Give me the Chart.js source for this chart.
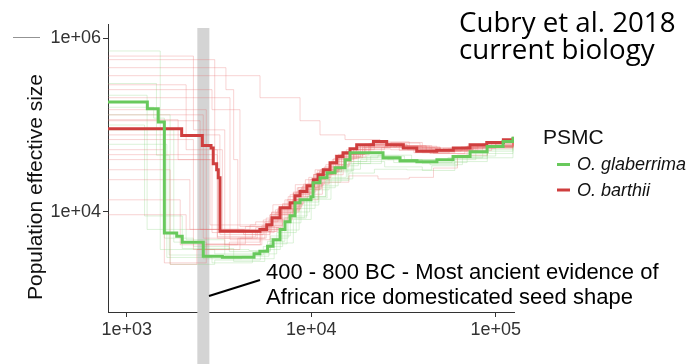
<!DOCTYPE html>
<html>
<head>
<meta charset="utf-8">
<script src="https://cdn.jsdelivr.net/npm/chart.js@4.4.1/dist/chart.umd.min.js"></script>
<style>
  html, body { margin: 0; padding: 0; background: #ffffff; overflow: hidden; }
  canvas { display: block; }
</style>
</head>
<body>
<canvas id="psmc" width="690" height="364"></canvas>
<script>
// Axis ticks
const xTickValues = [1e3, 1e4, 1e5];
const xTickLabels = ['1e+03', '1e+04', '1e+05'];
const yTickValues = [1e4, 1e6];
const yTickLabels = ['1e+04', '1e+06'];

// Main PSMC curves: [years ago, effective size] where each pair starts a new step level
const glaberrimaSteps = [
  [790, 183700], [1294, 154000], [1483, 108000], [1600, 5740], [1867, 5250], [2000, 4480],
  [2600, 3090], [3300, 3010], [4900, 3300], [5270, 3525], [5800, 4030], [6210, 4800],
  [6780, 6300], [7210, 7740], [7680, 9080], [8170, 12800], [8700, 13800], [9970, 15000],
  [10230, 21700], [11160, 24800], [12190, 28300], [13460, 32300], [15250, 39900], [16230, 48100],
  [24500, 42100], [30300, 38900], [37400, 37800], [48000, 39900], [58700, 43300], [72600, 49300],
  [89800, 56600], [109600, 64800], [124000, 73300]
];
const barthiiSteps = [
  [790, 90600], [1986, 75900], [2570, 58300], [2865, 54500], [2945, 35900], [3074, 30600],
  [3135, 24800], [3204, 5990], [5270, 6270], [5740, 7140], [6130, 8600], [6780, 11200],
  [7680, 12800], [8170, 15400], [8700, 17250], [9480, 20000], [10250, 23500], [10880, 26800],
  [11630, 30600], [12650, 36900], [13750, 43300], [14870, 48100], [16230, 53500], [17640, 59400],
  [21740, 64800], [25650, 59400], [31570, 54500], [37300, 49800], [47900, 51100], [58900, 54500],
  [72600, 59400], [89400, 63100], [110000, 67800], [124500, 72800]
];

// Bootstrap replicates, O. barthii
const barthiiReplicates = [
  [[790,564000],[3000,52000],[3300,6300],[5900,8100],[7900,13800],[10900,26800],[14900,45600],[20600,59000],[33300,52000],[52000,54000],[80000,60000],[124000,71000]],
  [[790,369000],[5280,206000],[8700,112000],[11160,77000],[15250,68000],[23600,62000],[38900,52000],[62000,55000],[100000,63000],[124000,70000]],
  [[790,206000],[3630,4800],[5980,9300],[7680,15800],[9850,23500],[12650,35000],[16230,52000],[21000,62000],[31000,54000],[45000,50000],[70000,57000],[124000,72000]],
  [[790,150000],[2700,4200],[5300,6300],[6800,10600],[8700,18000],[11160,30600],[14320,45600],[18390,59000],[28000,56000],[40000,48000],[60000,53000],[90000,62000],[124000,73000]],
  [[790,112000],[2500,6300],[4660,7100],[6200,12100],[8200,20600],[10500,30600],[13500,45600],[17500,56000],[26000,58000],[38000,50000],[55000,53000],[85000,61000],[124000,72000]],
  [[790,77000],[3200,5500],[5500,8100],[7200,13800],[9300,23500],[12000,35000],[15500,52000],[22000,64000],[34000,56000],[50000,52000],[75000,58000],[124000,74000]],
  [[790,23500],[2200,6300],[4300,5500],[5980,9300],[8000,17000],[10300,27000],[13000,40000],[17000,52000],[25000,57000],[42000,50000],[65000,56000],[124000,72000]],
  [[790,13800],[1950,4200],[4000,5000],[5600,7700],[7400,13800],[9500,21000],[12500,33000],[16000,47000],[24000,55000],[36000,48000],[56000,51000],[95000,64000],[124000,71000]],
  [[790,40000],[2830,7100],[5000,7700],[6600,11000],[8500,19000],[11000,29000],[14000,42000],[19000,55000],[30000,51000],[46000,47000],[70000,55000],[124000,72000]],
  [[790,68000],[2300,3700],[3600,4500],[5280,6300],[7000,12100],[9000,20000],[11600,32000],[15000,47000],[21000,60000],[33000,54000],[50000,51000],[80000,59000],[124000,73000]],
  [[790,30600],[1720,2500],[2400,3700],[4110,5000],[5700,8500],[7500,15000],[9700,25000],[12800,38000],[17000,53000],[27000,52000],[44000,47000],[68000,54000],[124000,71000]],
  [[790,9300],[2100,6300],[4400,6800],[6100,10000],[8000,16500],[10400,26800],[13600,41000],[18000,56000],[29000,58000],[45000,53000],[70000,57000],[124000,73000]],
  [[790,456000],[3450,255000],[3800,40000],[4000,5800],[6300,9500],[8300,17000],[10600,28000],[13800,43000],[18500,58000],[27000,63000],[40000,55000],[62000,54000],[100000,64000],[124000,72000]],
  [[790,255000],[2900,150000],[4110,6800],[6400,10600],[8400,19000],[10800,30000],[14000,46000],[19500,60000],[30000,57000],[48000,51000],[75000,57000],[124000,72000]],
  [[790,131000],[2600,5000],[4800,6000],[6500,10000],[8600,16000],[11500,22000],[16000,26000],[23000,24000],[34000,25000],[46000,32000],[62000,45000],[90000,58000],[124000,70000]],
  [[790,45600],[3100,5200],[5000,6600],[6700,11000],[8800,18500],[11400,29000],[14600,43000],[19800,56000],[31000,54000],[50000,50000],[78000,57000],[124000,71000]],
  [[790,620000],[2300,88000],[3400,4200],[5400,6600],[6900,11500],[8900,19500],[11400,31000],[14600,46000],[19500,60000],[30000,55000],[47000,50000],[72000,57000],[124000,72000]],
  [[790,290000],[2100,52000],[3100,5000],[5100,6000],[6600,10500],[8600,18000],[11100,29000],[14200,44000],[19000,58000],[29000,57000],[44000,52000],[68000,56000],[124000,72000]],
  [[790,115000],[1900,40000],[2900,5800],[5400,7000],[7000,12500],[9100,21000],[11800,33000],[15200,48000],[20500,61000],[32000,55000],[50000,52000],[76000,58000],[124000,72000]],
  [[790,52000],[1600,2600],[2700,4300],[4400,6000],[6100,9800],[8000,16500],[10300,27000],[13200,41000],[17600,55000],[27000,58000],[42000,51000],[66000,55000],[124000,72000]]
];

// Bootstrap replicates, O. glaberrima
const glaberrimaReplicates = [
  [[790,710000],[1520,3700],[3000,3300],[5000,3500],[6000,5000],[7500,9000],[9500,15000],[12000,25000],[15500,38000],[20000,44000],[30000,37000],[48000,37000],[70000,47000],[124000,72000]],
  [[790,220000],[1290,6300],[2100,4800],[3400,3200],[5500,4000],[7000,7500],[8800,13000],[11000,22000],[14500,34000],[18000,42000],[26000,40000],[40000,36000],[60000,42000],[124000,71000]],
  [[790,131000],[1720,2500],[3000,2800],[5300,3300],[6500,5800],[8300,11000],[10500,19000],[13500,30000],[17000,38000],[25000,33000],[40000,30000],[60000,38000],[90000,52000],[124000,70000]],
  [[790,88000],[1800,4500],[2700,3700],[4600,3600],[6000,5300],[7700,10000],[9800,18000],[12500,29000],[16500,42000],[23000,45000],[35000,40000],[55000,42000],[85000,55000],[124000,73000]],
  [[790,160000],[1400,120000],[1600,5000],[2300,4000],[3600,3500],[5800,4600],[7200,8600],[9200,15000],[12000,23000],[16000,28000],[22000,31000],[33000,30500],[45000,34000],[62000,44000],[90000,57000],[124000,72000]],
  [[790,60000],[1650,3000],[2900,2600],[4800,2900],[6300,4400],[8000,8200],[10000,14000],[12800,24000],[16800,36000],[24000,40000],[38000,37000],[58000,41000],[90000,56000],[124000,73000]],
  [[790,300000],[1450,45000],[1700,3200],[2600,2900],[4200,3100],[5900,4300],[7400,8500],[9400,14500],[12200,24000],[15800,36000],[21000,44000],[32000,40000],[50000,40000],[78000,50000],[124000,72000]],
  [[790,100000],[1250,9000],[2000,3800],[3800,2700],[5600,3700],[6800,6200],[8600,12000],[11000,20000],[14000,31000],[18500,40000],[28000,37000],[44000,35000],[66000,44000],[100000,60000],[124000,72000]]
];

// Domestication window (years ago) and its note
const domesticationWindow = [2415, 2806];
const noteLines = ['400 - 800 BC - Most ancient evidence of', 'African rice domesticated seed shape'];
const legendTitle = 'PSMC';
const legendNames = ['O. glaberrima', 'O. barthii'];
const creditLines = ['Cubry et al. 2018', 'current biology'];
const yTitle = 'Population effective size';

const GREEN = 'rgb(104, 201, 92)';
const RED = 'rgb(207, 62, 62)';

const toPoints = steps => steps.map(([x, y]) => ({ x, y }));

const datasets = [];
datasets.push({ label: legendNames[0], data: toPoints(glaberrimaSteps), borderColor: GREEN, borderWidth: 3, order: 0 });
datasets.push({ label: legendNames[1], data: toPoints(barthiiSteps), borderColor: RED, borderWidth: 3, order: 1 });
barthiiReplicates.forEach(r => datasets.push({ label: '', data: toPoints(r), borderColor: 'rgba(232, 110, 110, 0.3)', borderWidth: 1, order: 2 }));
glaberrimaReplicates.forEach(r => datasets.push({ label: '', data: toPoints(r), borderColor: 'rgba(130, 210, 120, 0.28)', borderWidth: 1, order: 3 }));
datasets.forEach(d => { d.stepped = true; d.pointRadius = 0; d.fill = false; d.tension = 0; });

// Shaded window, drawn under the curves and running past the axis
const windowBand = {
  id: 'windowBand',
  beforeDatasetsDraw(chart) {
    const { ctx, scales: { x } } = chart;
    const x0 = x.getPixelForValue(domesticationWindow[0]);
    const x1 = x.getPixelForValue(domesticationWindow[1]);
    ctx.save();
    ctx.fillStyle = 'rgb(212, 212, 212)';
    ctx.fillRect(x0, 28, x1 - x0, chart.height - 28);
    // small dash at the top left
    ctx.strokeStyle = 'rgba(120, 120, 120, 0.8)';
    ctx.lineWidth = 1;
    ctx.beginPath();
    ctx.moveTo(13, 37.5);
    ctx.lineTo(40, 37.5);
    ctx.stroke();
    ctx.restore();
  }
};

// Axis title, legend, note and credit text
const decorations = {
  id: 'decorations',
  afterDraw(chart) {
    const { ctx } = chart;
    ctx.save();

    // y-axis title
    ctx.fillStyle = '#111';
    ctx.font = '21px "Liberation Sans", Arial, sans-serif';
    ctx.textAlign = 'center';
    ctx.textBaseline = 'middle';
    ctx.translate(36, 187);
    ctx.rotate(-Math.PI / 2);
    ctx.fillText(yTitle, 0, 0);
    ctx.setTransform(1, 0, 0, 1, 0, 0);

    // note leader line and text
    ctx.strokeStyle = '#000';
    ctx.lineWidth = 2;
    ctx.beginPath();
    ctx.moveTo(209, 296);
    ctx.lineTo(260, 280);
    ctx.stroke();
    ctx.fillStyle = '#000';
    ctx.textAlign = 'left';
    ctx.textBaseline = 'alphabetic';
    ctx.font = '22px "Liberation Sans", Arial, sans-serif';
    ctx.fillText(noteLines[0], 266, 278.5);
    ctx.fillText(noteLines[1], 266, 303.5);

    // legend
    ctx.fillStyle = '#111';
    ctx.font = '21px "Liberation Sans", Arial, sans-serif';
    ctx.textBaseline = 'middle';
    ctx.fillText(legendTitle, 543, 138);
    const colors = [GREEN, RED];
    const rows = [164.5, 190];
    ctx.font = 'italic 18px "Liberation Sans", Arial, sans-serif';
    rows.forEach((yy, i) => {
      ctx.strokeStyle = colors[i];
      ctx.lineWidth = 3;
      ctx.beginPath();
      ctx.moveTo(557, yy);
      ctx.lineTo(570, yy);
      ctx.stroke();
      ctx.fillStyle = '#111';
      ctx.fillText(legendNames[i], 577, yy + 0.5);
    });

    // credit
    ctx.fillStyle = '#000';
    ctx.textBaseline = 'alphabetic';
    ctx.font = '27.7px "Open Sans", sans-serif';
    ctx.fillText(creditLines[0], 459, 31.5);
    ctx.fillText(creditLines[1], 459, 58.5);

    ctx.restore();
  }
};

const axisGrid = { display: true, drawOnChartArea: false, drawTicks: true, tickLength: 5, color: '#333' };
const tickFont = { family: '"Liberation Sans", Arial, sans-serif', size: 18 };

new Chart(document.getElementById('psmc'), {
  type: 'line',
  data: { datasets },
  options: {
    responsive: false,
    devicePixelRatio: 1,
    animation: false,
    parsing: true,
    layout: { padding: { top: 24, right: 176, left: 0, bottom: 0 } },
    scales: {
      x: {
        type: 'logarithmic',
        min: 792,
        max: 125600,
        afterFit: s => { s.height = 52; },
        afterBuildTicks: s => { s.ticks = xTickValues.map(v => ({ value: v })); },
        ticks: {
          callback: v => xTickLabels[xTickValues.indexOf(v)],
          font: tickFont, color: '#333', padding: 2, maxRotation: 0, autoSkip: false
        },
        grid: axisGrid,
        border: { display: true, color: '#333', width: 1 }
      },
      y: {
        type: 'logarithmic',
        min: 708,
        max: 1450000,
        afterFit: s => { s.width = 108; },
        afterBuildTicks: s => { s.ticks = yTickValues.map(v => ({ value: v })); },
        ticks: {
          callback: v => yTickLabels[yTickValues.indexOf(v)],
          font: tickFont, color: '#333', padding: 2, autoSkip: false
        },
        grid: axisGrid,
        border: { display: true, color: '#333', width: 1 }
      }
    },
    plugins: { legend: { display: false }, tooltip: { enabled: false } }
  },
  plugins: [windowBand, decorations]
});
</script>
</body>
</html>
